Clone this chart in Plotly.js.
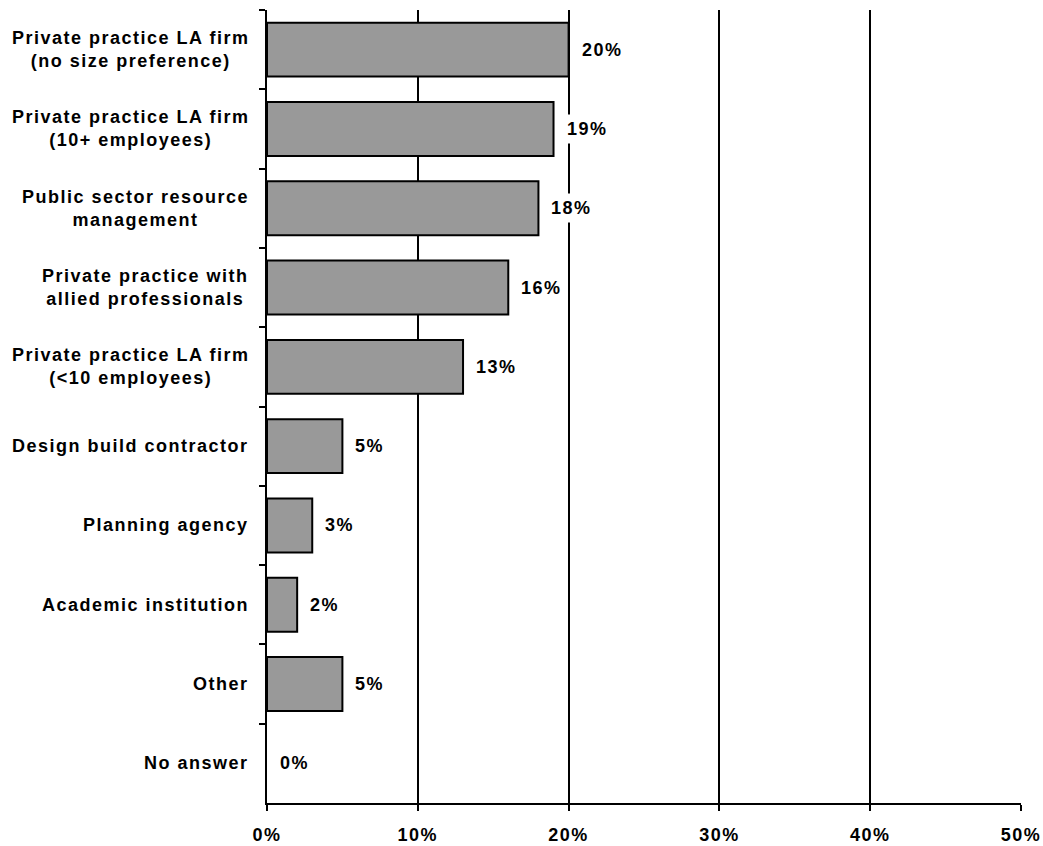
<!DOCTYPE html>
<html>
<head>
<meta charset="utf-8">
<script src="https://cdn.plot.ly/plotly-3.0.1.min.js"></script>
<style>html,body{margin:0;padding:0;background:#fff;}#chart{width:1043px;height:846px;} text{letter-spacing:1.5px;}</style>
</head>
<body>
<div id="chart"></div>
<script>
const categories = [
  "Private practice LA firm<br>(no size preference)",
  "Private practice LA firm<br>(10+ employees)",
  "Public sector resource<br>management",
  "Private practice with<br>allied professionals",
  "Private practice LA firm<br>(<10 employees)",
  "Design build contractor",
  "Planning agency",
  "Academic institution",
  "Other",
  "No answer"
];
const values = [20, 19, 18, 16, 13, 5, 3, 2, 5, 0];
const valueLabels = ["20%", "19%", "18%", "16%", "13%", "5%", "3%", "2%", "5%", "0%"];
const xTickValues = [0, 10, 20, 30, 40, 50];
const xTickLabels = ["0%", "10%", "20%", "30%", "40%", "50%"];

const FONT = "Liberation Sans, Arial, sans-serif";

const trace = {
  type: "bar",
  orientation: "h",
  y: categories,
  x: values,
  marker: { color: "#999999", line: { color: "#000000", width: values.map(v => v > 0 ? 2 : 0) } },
  hoverinfo: "none"
};

const annotations = [];
categories.forEach((c, i) => {
  annotations.push({
    xref: "paper", yref: "y", x: 0, y: c, xanchor: "right", yanchor: "middle",
    xshift: -16, align: "center", showarrow: false,
    text: c, font: { family: FONT, size: 18, color: "#000", weight: "bold" }
  });
  annotations.push({
    xref: "x", yref: "y", x: values[i], y: c, xanchor: "left", yanchor: "middle",
    xshift: 8, showarrow: false, text: valueLabels[i], bgcolor: "#ffffff", borderpad: 4,
    font: { family: FONT, size: 18, color: "#000", weight: "bold" }
  });
});

const layout = {
  width: 1043, height: 846,
  margin: { l: 267, r: 22, t: 10, b: 43 },
  paper_bgcolor: "#ffffff", plot_bgcolor: "#ffffff",
  showlegend: false,
  bargap: 0.32,
  font: { family: FONT, size: 18, color: "#000", weight: "bold" },
  xaxis: {
    range: [0, 50], tickvals: xTickValues, ticktext: xTickLabels,
    showgrid: true, gridcolor: "#000", gridwidth: 2,
    zeroline: false, showline: true, linecolor: "#000", linewidth: 2,
    ticks: "outside", ticklen: 6, tickwidth: 2, tickcolor: "#000",
    ticklabelstandoff: 8,
    tickfont: { family: FONT, size: 18, color: "#000", weight: "bold" }
  },
  yaxis: {
    type: "category", autorange: "reversed",
    showticklabels: false, showline: true, linecolor: "#000", linewidth: 2,
    ticks: "outside", tickson: "boundaries", ticklen: 6, tickwidth: 2, tickcolor: "#000",
    showgrid: false, zeroline: false
  },
  annotations: annotations
};

Plotly.newPlot("chart", [trace], layout, { displayModeBar: false, staticPlot: true });
</script>
</body>
</html>
